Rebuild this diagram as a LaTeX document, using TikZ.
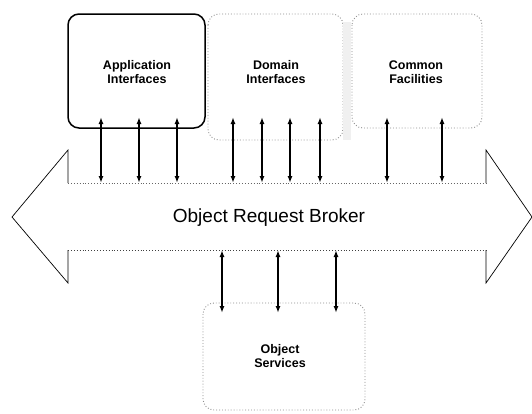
\documentclass[tikz,border=0pt]{standalone}
\usepackage{fontspec}
\setmainfont{Liberation Sans}
\usetikzlibrary{arrows.meta}
\begin{document}
\begin{tikzpicture}[x=1pt,y=-1pt,
  solidbox/.style={draw=black,line width=1.5pt,rounded corners=11pt},
  faintbox/.style={draw=black!45,line width=0.9pt,dotted,rounded corners=11pt},
  boxlabel/.style={font=\bfseries\fontsize{12.5}{14}\selectfont,align=center},
  biarrow/.style={line width=1.4pt,{Latex[length=7pt,width=5pt]}-{Latex[length=7pt,width=5pt]}},
  orbedge/.style={draw=black,line width=0.7pt},
  orbshaft/.style={draw=black!60,line width=0.9pt,dotted}]
\useasboundingbox (0,0) rectangle (532,413);

% upper boxes
\draw[faintbox] (208,14) rectangle (343,140);
\fill[black!6] (343,22) rectangle (351,140);
\draw[faintbox] (352,14) rectangle (482,128);
\draw[solidbox,fill=white] (68,14) rectangle (205,128);
\node[boxlabel] (app) at (137,72) {Application\\Interfaces};
\node[boxlabel] (dom) at (276,72) {Domain\\Interfaces};
\node[boxlabel] (com) at (416,72) {Common\\Facilities};

% lower box
\draw[faintbox] (203,303) rectangle (365,410);
\node[boxlabel] (srv) at (280,356) {Object\\Services};

% the broker: a double arrow
\draw[orbedge] (68,183) -- (68,150) -- (12,217) -- (68,283) -- (68,250);
\draw[orbedge] (486,183) -- (486,150) -- (532,217) -- (486,283) -- (486,250);
\draw[orbshaft] (68,183) -- (486,183);
\draw[orbshaft,draw=black!75] (68,250) -- (486,250);
\node[font=\fontsize{19}{21}\selectfont] (orb) at (269,218) {Object Request Broker};

% connection points on the broker
\coordinate (orbtop) at (0,183);
\coordinate (orbbot) at (0,250);

% upper connectors
\foreach \x [count=\i] in {101,139,177,233,262,290,320,387,442}
  \coordinate (u\i) at (\x,117);
\foreach \i in {1,...,9}
  \draw[biarrow] (u\i) -- (u\i |- orbtop);

% lower connectors
\foreach \x [count=\i] in {222,278,336}
  \coordinate (d\i) at (\x,313);
\foreach \i in {1,2,3}
  \draw[biarrow] (d\i |- orbbot) -- (d\i);
\end{tikzpicture}
\end{document}
